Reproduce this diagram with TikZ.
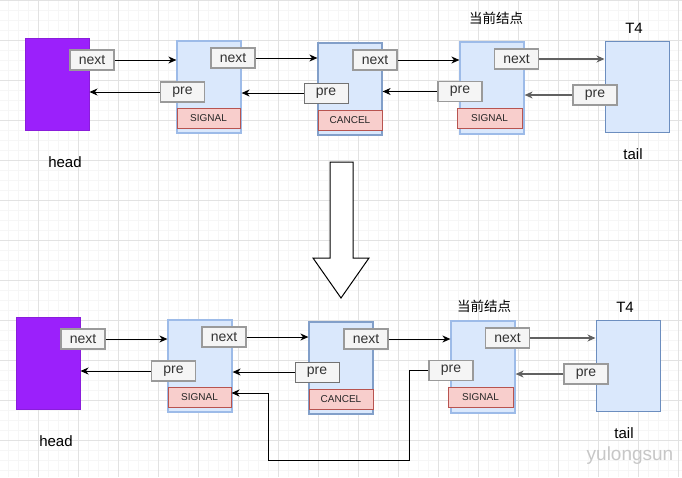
\documentclass[tikz,border=0pt]{standalone}
\usepackage{fontspec}
\setmainfont{Liberation Sans}
\newfontfamily\cjkfont{Noto Sans CJK SC}
\usetikzlibrary{arrows.meta}
\definecolor{blfill}{HTML}{DAE8FC}
\definecolor{blline}{HTML}{6C8EBF}
\definecolor{bllight}{HTML}{9DBBE8}
\definecolor{purp}{HTML}{9B20FB}
\definecolor{purpline}{HTML}{8A1DDB}
\definecolor{rdfill}{HTML}{F8CECC}
\definecolor{rdline}{HTML}{B85450}
\definecolor{gyfill}{HTML}{F5F5F5}
\definecolor{gyline}{HTML}{9A9A9A}
\definecolor{gytext}{HTML}{333333}
\definecolor{gridmajor}{HTML}{E2E2E2}
\definecolor{gridminor}{HTML}{F6F6F6}
\tikzset{
  nodebox/.style={draw=bllight, fill=blfill, line width=1.2pt, minimum width=64pt, minimum height=92pt, inner sep=0pt},
  tailbox/.style={nodebox, draw=blline, line width=1pt, minimum height=91pt},
  headbox/.style={draw=purpline, fill=purp, line width=1pt, minimum width=64pt, minimum height=92pt, inner sep=0pt},
  fieldbox/.style={draw=gyline, fill=gyfill, line width=1.3pt, minimum width=44pt, minimum height=20pt, inner sep=0pt, text=gytext, font=\fontsize{14}{16}\selectfont},
  flagbox/.style={draw=rdline, fill=rdfill, line width=1pt, minimum width=64pt, minimum height=20pt, inner sep=0pt, text=black!85, font=\fontsize{10}{12}\selectfont},
  lbl/.style={inner sep=0pt, font=\fontsize{15}{18}\selectfont},
  cjklbl/.style={inner sep=0pt, font=\cjkfont\fontsize{13.5}{16}\selectfont},
  arr/.style={-{Stealth[length=8pt,width=7pt,inset=2.5pt]}, line width=1pt, draw=black},
  garr/.style={arr, draw=black!62, line width=1.3pt},
}
\newcommand\listrow[1]{%
  \node[headbox] (head#1) at (57,84) {};
  \node[nodebox] (na#1) at (209,87) {};
  \node[nodebox, draw=blline!85] (nb#1) at (350,89) {};
  \node[nodebox] (nc#1) at (492,88) {};
  \node[tailbox] (tail#1) at (637,86.5) {};
  \node[flagbox, minimum width=63pt] (fa#1) at (208.5,118) {SIGNAL};
  \node[flagbox] (fb#1) at (350,120) {CANCEL};
  \node[flagbox, minimum width=65pt] (fc#1) at (489.5,118.5) {SIGNAL};
  \node[fieldbox] (xh#1) at (92,60) {next};
  \node[fieldbox] (xa#1) at (233,58) {next};
  \node[fieldbox] (xb#1) at (375,60) {next};
  \node[fieldbox] (xc#1) at (516.5,59) {next};
  \node[fieldbox] (pa#1) at (182.5,92) {pre};
  \node[fieldbox, draw=black!55, line width=1pt] (pb#1) at (326,93) {pre};
  \node[fieldbox] (pc#1) at (460,91.5) {pre};
  \node[fieldbox] (pt#1) at (595,95) {pre};
  \draw[arr] (xh#1.east) -- (xh#1.east -| na#1.west);
  \draw[arr] (xa#1.east) -- (xa#1.east -| nb#1.west);
  \draw[arr] (xb#1.east) -- (xb#1.east -| nc#1.west);
  \draw[garr] (xc#1.east) -- (xc#1.east -| tail#1.west);
  \draw[arr] (pa#1.west) -- (pa#1.west -| head#1.east);
  \draw[arr] (pb#1.west) -- (pb#1.west -| na#1.east);
  \draw[garr] (pt#1.west) -- (pt#1.west -| nc#1.east);
  \node[lbl] (hl#1) at (65,162) {head};
  \node[lbl] (tl#1) at (633,154) {tail};
  \node[lbl] (t4#1) at (634,28) {T4};
}
\begin{document}
\begin{tikzpicture}[x=1pt,y=-1pt]
\useasboundingbox (0,0) rectangle (682,477);
\fill[white] (0,0) rectangle (682,477);
% grid
\foreach \gx in {8,18,...,678} \draw[gridminor, line width=0.8pt] (\gx,0) -- (\gx,477);
\foreach \gy in {10,20,...,470} \draw[gridminor, line width=0.8pt] (0,\gy) -- (682,\gy);
\foreach \gx in {38,78,...,678} \draw[gridmajor, line width=0.8pt] (\gx,0) -- (\gx,477);
\foreach \gy in {0,40,...,470} \draw[gridmajor, line width=0.8pt] (0,\gy) -- (682,\gy);
% top row
\listrow{a}
\draw[arr] (pca.west) -- (pca.west -| nba.east);
\node[cjklbl] (cura) at (496,18) {当前结点};
% big arrow
\draw[fill=white, line width=1pt, line join=miter] (330,162) -- (353,162) -- (353,258) -- (369,258) -- (341,298) -- (313,258) -- (330,258) -- cycle;
% bottom row
\begin{scope}[shift={(-9,279)}]
\listrow{b}
\end{scope}
\node[cjklbl] (curb) at (484,306) {当前结点};
\coordinate (wa) at (409,460);
\coordinate (wb) at (268,393);
\draw[arr, line join=miter] (pcb.west) -| (wa) -| (wb) -- (wb -| fab.east);
\node[inner sep=0pt, text=black!22, font=\fontsize{19}{22}\selectfont] (wm) at (630,456) {yulongsun};
\end{tikzpicture}
\end{document}
